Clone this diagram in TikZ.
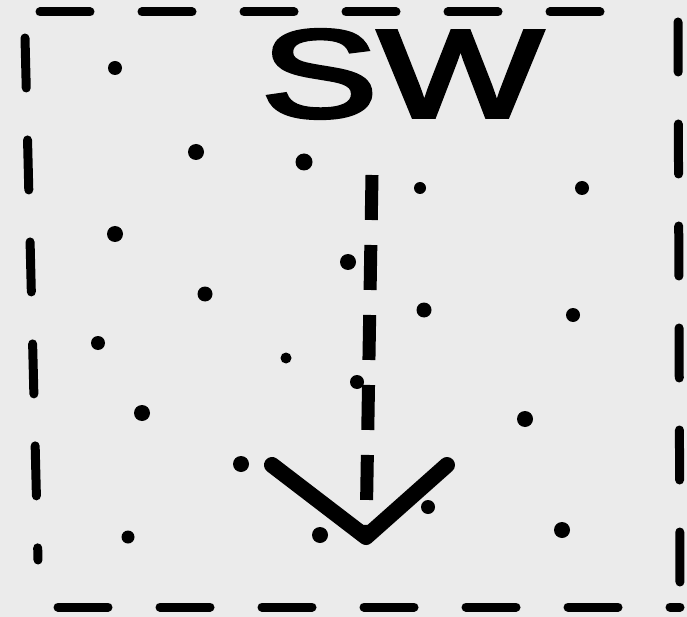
\documentclass[tikz,border=0pt]{standalone}
\usepackage{fontspec}
\setmainfont{Liberation Sans}
\newfontfamily\handfont[FakeBold=3]{Liberation Sans}
\begin{document}
\begin{tikzpicture}[x=1pt,y=-1pt,
  frame/.style={line width=9pt,dash pattern=on 50pt off 52pt,line cap=round},
  shaft/.style={line width=13pt,dash pattern=on 45pt off 25pt},
  chev/.style={line width=16pt,line cap=round,line join=round}]
\fill[white!92!black] (0,0) rectangle (687,617);
\useasboundingbox (0,0) rectangle (687,617);
% frame
\draw[frame] (40,12) -- (650,12);
\draw[frame] (25,38) -- (38,560);
\draw[frame] (678,22) -- (680,595);
\draw[frame] (58,607) -- (680,607);
% label
\node[font=\handfont\fontsize{125}{125}\selectfont,xscale=1.4,inner sep=0pt] (lbl) at (402,74) {SW};
% dots
\foreach \x/\y/\r in {115/68/7,196/152/8,304/162/8.5,420/188/6,582/188/7,
  115/234/8,348/262/8,205/294/7.5,424/310/7.5,573/315/7,
  98/343/7,286/358/5.5,357/382/7,142/413/8,525/419/8,
  241/464/8,428/507/7,128/537/6.5,320/535/8,562/530/8}
  \fill (\x,\y) circle[radius=\r pt];
% arrow
\coordinate (a0) at (372,175);
\coordinate (tip) at (366,537);
\coordinate (l) at (272,465);
\coordinate (r) at (447,465);
\draw[shaft] (a0) -- (tip);
\draw[chev] (l) -- (tip) -- (r);
\end{tikzpicture}
\end{document}
